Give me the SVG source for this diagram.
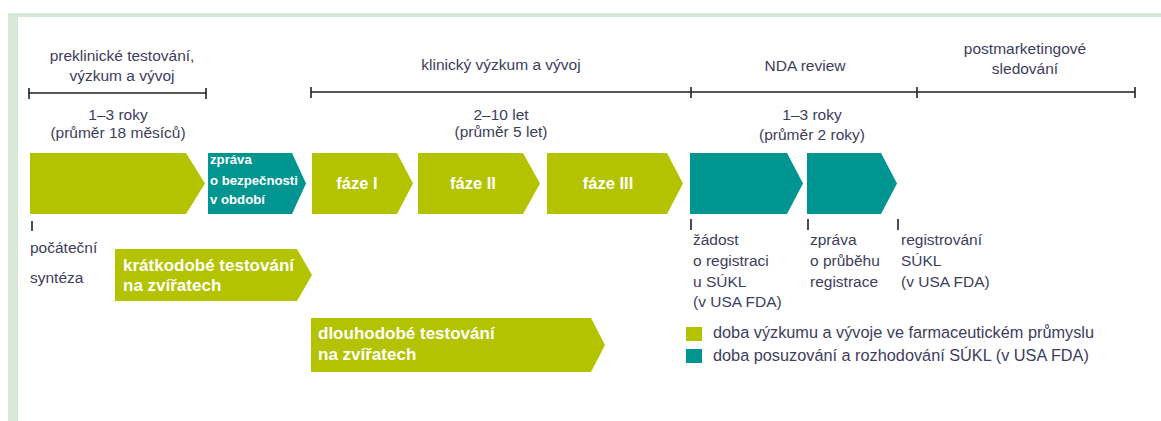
<svg xmlns="http://www.w3.org/2000/svg" width="1161" height="421" viewBox="0 0 1161 421">
<style>
.t{font-family:"Liberation Sans",Arial,sans-serif;font-size:15.5px;fill:#3d3d5c}
.lg{font-size:16.3px}
.c{text-anchor:middle}
.w{font-family:"Liberation Sans",Arial,sans-serif;font-weight:bold;fill:#ffffff}
.g{fill:#b4c300}
.q{fill:#009590}
.ln{stroke:#222;stroke-width:1.6;fill:none}
</style>
<rect x="0" y="0" width="1161" height="421" fill="#ffffff"/>
<rect x="8" y="13" width="1153" height="4" fill="#d6e9d8"/>
<rect x="8" y="13" width="10" height="408" fill="#d6e9d8"/>

<g id="timeline">
<path class="ln" d="M29,93 H206 M29,88 V99 M206,88 V99"/>
<path class="ln" d="M311,92 H1135 M311,87 V98 M691,87 V98 M917,87 V98 M1135,87 V98"/>
</g>

<g id="headers">
<text class="t c" x="122" y="61">preklinické testování,</text>
<text class="t c" x="122" y="81">výzkum a vývoj</text>
<text class="t c" x="118" y="120">1–3 roky</text>
<text class="t c" x="118" y="138">(průměr 18 měsíců)</text>
<text class="t c" x="501" y="70">klinický výzkum a vývoj</text>
<text class="t c" x="501" y="120">2–10 let</text>
<text class="t c" x="501" y="137">(průměr 5 let)</text>
<text class="t c" x="805" y="71">NDA review</text>
<text class="t c" x="812" y="120">1–3 roky</text>
<text class="t c" x="812" y="140">(průměr 2 roky)</text>
<text class="t c" x="1025" y="54">postmarketingové</text>
<text class="t c" x="1025" y="74">sledování</text>
</g>

<g id="preclinical">
<polygon class="g" points="30,153 186,153 205,183.5 186,214 30,214"/>
</g>
<g id="safety-report">
<polygon class="q" points="208,153 292,153 306,183.5 292,214 208,214"/>
<text class="w" x="210" y="164" font-size="13.2">zpráva</text>
<text class="w" x="210" y="185" font-size="13.2">o bezpečnosti</text>
<text class="w" x="210" y="204" font-size="13.2">v období</text>
</g>
<g id="phase1">
<polygon class="g" points="312,153 397,153 413,183.5 397,214 312,214"/>
<text class="w c" x="357" y="189" font-size="16.5">fáze I</text>
</g>
<g id="phase2">
<polygon class="g" points="418,153 523,153 540,183.5 523,214 418,214"/>
<text class="w c" x="473" y="189" font-size="16.5">fáze II</text>
</g>
<g id="phase3">
<polygon class="g" points="547,153 667,153 683,183.5 667,214 547,214"/>
<text class="w c" x="608" y="189" font-size="16.5">fáze III</text>
</g>
<g id="nda-submission">
<polygon class="q" points="690,153 787,153 803,183.5 787,214 690,214"/>
</g>
<g id="nda-progress">
<polygon class="q" points="807,153 881,153 897,183.5 881,214 807,214"/>
</g>

<g id="ticks">
<path class="ln" d="M32,221 V231 M691,219 V230 M808,219 V230 M898,219 V230"/>
</g>

<g id="synthesis">
<text class="t" x="30" y="253">počáteční</text>
<text class="t" x="30" y="283">syntéza</text>
</g>
<g id="short-term">
<polygon class="g" points="115,249 297,249 312,275 297,301 115,301"/>
<text class="w" x="123" y="271" font-size="17">krátkodobé testování</text>
<text class="w" x="123" y="291" font-size="17">na zvířatech</text>
</g>
<g id="long-term">
<polygon class="g" points="311,318 591,318 605,345 591,372 311,372"/>
<text class="w" x="318" y="339" font-size="17">dlouhodobé testování</text>
<text class="w" x="318" y="360" font-size="17">na zvířatech</text>
</g>

<g id="label-submission">
<text class="t" x="693" y="245">žádost</text>
<text class="t" x="693" y="266">o registraci</text>
<text class="t" x="693" y="287">u SÚKL</text>
<text class="t" x="693" y="307">(v USA FDA)</text>
</g>
<g id="label-progress">
<text class="t" x="810" y="245">zpráva</text>
<text class="t" x="810" y="266">o průběhu</text>
<text class="t" x="810" y="287">registrace</text>
</g>
<g id="label-registration">
<text class="t" x="901" y="245">registrování</text>
<text class="t" x="901" y="266">SÚKL</text>
<text class="t" x="901" y="287">(v USA FDA)</text>
</g>

<g id="legend">
<rect class="g" x="686" y="327" width="16" height="14"/>
<rect class="q" x="686" y="349" width="16" height="14"/>
<text class="t lg" x="713" y="338">doba výzkumu a vývoje ve farmaceutickém průmyslu</text>
<text class="t lg" x="713" y="361">doba posuzování a rozhodování SÚKL (v USA FDA)</text>
</g>
</svg>
